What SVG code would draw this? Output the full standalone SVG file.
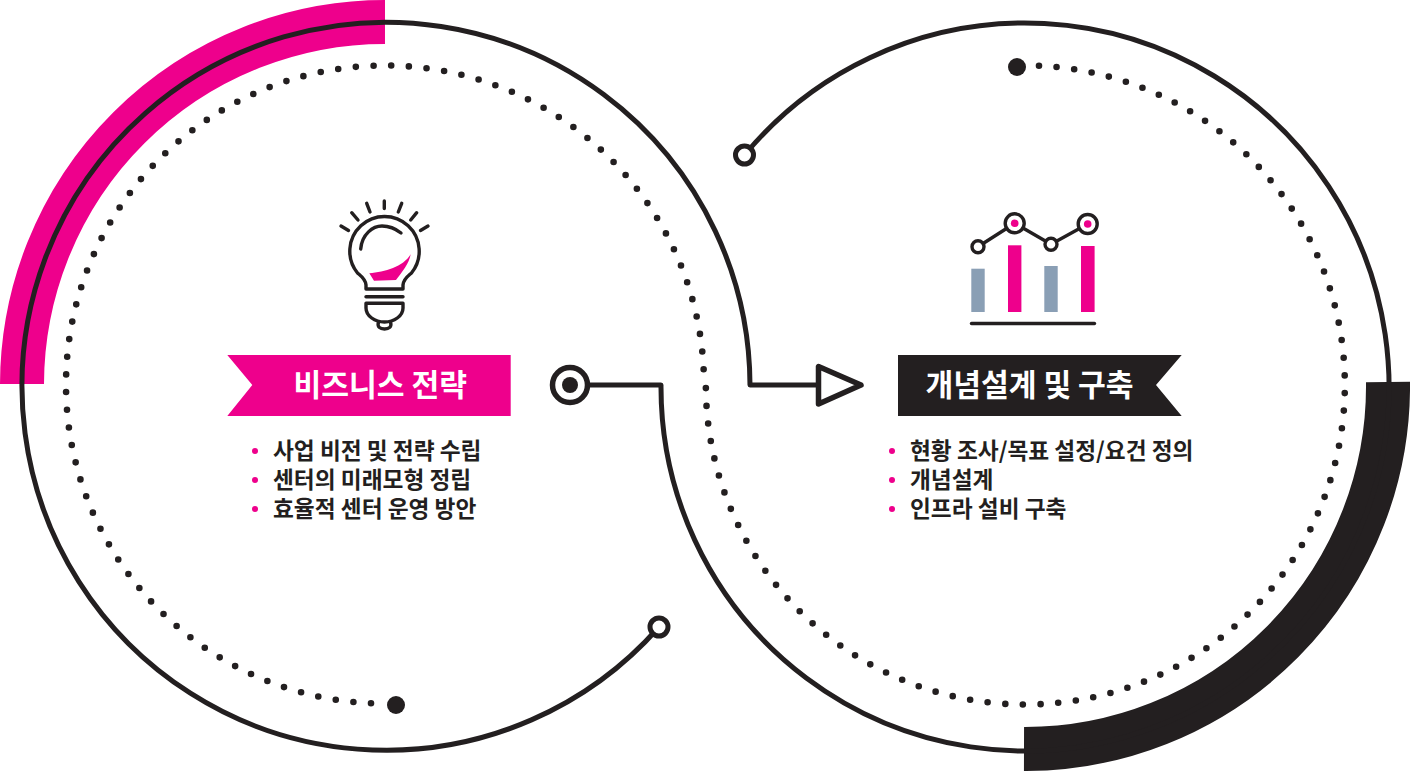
<svg xmlns="http://www.w3.org/2000/svg" width="1410" height="771" viewBox="0 0 1410 771">
<style>
.ln{fill:none;stroke:#231f20;stroke-width:5;stroke-linecap:round;stroke-linejoin:round}
.ic{fill:none;stroke:#231f20;stroke-width:3.4;stroke-linecap:round;stroke-linejoin:round}
.dots{fill:none;stroke:#231f20;stroke-width:6.6;stroke-linecap:round;stroke-dasharray:0 17.75}
.dots2{stroke-dasharray:0 17.716}
.pk{fill:#ee008c}.gr{fill:#8a9fb5}.bk{fill:#231f20}
text{font-family:"Noto Sans CJK KR","Noto Sans",sans-serif}
.h{font-size:30.2px;font-weight:700;fill:#fff}
.t{font-size:22.7px;font-weight:700;fill:#231f20}
</style>
<g id="rings">
<path d="M385,22 A363,363 0 0 0 22,384" fill="none" stroke="#ee008c" stroke-width="44"/>
<path d="M1388,382 A363,363 0 0 1 1024,749" fill="none" stroke="#231f20" stroke-width="44"/>
</g>
<g id="connectors">
<path class="ln" d="M659,627 A364,364 0 1 1 750,385 H818"/>
<path class="ln" d="M744.500,155 A364,364 0 1 1 661,385 H590"/>
<path class="dots" d="M371,703.200 A319,319 0 1 1 704,384.500"/>
<path class="dots dots2" d="M1039,65.800 A319.500,319.500 0 1 1 706,375"/>
<circle class="bk" cx="396" cy="705" r="9"/>
<circle class="bk" cx="1017" cy="67" r="9"/>
</g>
<g id="end-left"><circle cx="659" cy="627" r="9" fill="#fff" stroke="#231f20" stroke-width="5"/></g>
<g id="end-right"><circle cx="744.500" cy="155" r="9" fill="#fff" stroke="#231f20" stroke-width="5"/></g>
<g id="target"><circle cx="570" cy="385" r="17.500" fill="#fff" stroke="#231f20" stroke-width="5.500"/><circle class="bk" cx="570" cy="385" r="8"/></g>
<g id="arrow"><path d="M818.500,366.500 V404 L861,385 Z" fill="#fff" stroke="#231f20" stroke-width="5.500" stroke-linejoin="round"/></g>
<g id="bulb">
<path class="pk" d="M369.300,273.300 C385,272 403,267 410.700,254.300 C409,264 402,272 396,280 L374,280.700 Z"/>
<path class="ic" d="M366,289 V285 C365.500,279 361,276 357.500,273 A34.700,34.700 0 1 1 411.500,273 C408,276 403.500,279 403,285 V289 Z"/>
<path class="ic" d="M360.700,249 C362,234 373,226 382,226 C390,226 396,229 401,233"/>
<path class="ic" d="M366,296.700 H403"/>
<path class="ic" d="M366,303.300 H403 V308 C403,316 394,322 384.500,322 C375,322 366,316 366,308 Z"/>
<path class="ic" d="M378.500,322 C377,327 380,329 384.500,329 C389,329 392,327 390.500,322"/>
<path class="ic" d="M384.300,201 V208.500 M366.700,203.300 L370,212 M401.700,203.300 L398.300,212 M351.700,212.700 L358,220 M416.700,212.700 L410.700,220 M341,226 L348.500,230.500 M428,226 L420.500,230.500"/>
</g>
<g id="chart">
<rect class="gr" x="971.300" y="268.700" width="13.400" height="43.300"/>
<rect class="pk" x="1008" y="245.300" width="13.400" height="66.700"/>
<rect class="gr" x="1044.300" y="266" width="13.400" height="46"/>
<rect class="pk" x="1081" y="246" width="13.600" height="66"/>
<path class="ic" d="M971.500,323.500 H1094.500"/>
<path class="ic" d="M978,246.700 L1014.700,223.300 L1051,244.300 L1087.700,224"/>
<circle cx="978" cy="246.700" r="6" fill="#fff" stroke="#231f20" stroke-width="3.400"/>
<circle cx="1014.700" cy="223.300" r="9.500" fill="#fff" stroke="#231f20" stroke-width="3.400"/>
<circle class="pk" cx="1014.700" cy="223.300" r="3.800"/>
<circle cx="1051" cy="244.300" r="6" fill="#fff" stroke="#231f20" stroke-width="3.400"/>
<circle cx="1087.700" cy="224" r="9.500" fill="#fff" stroke="#231f20" stroke-width="3.400"/>
<circle class="pk" cx="1087.700" cy="224" r="3.800"/>
</g>
<g id="banner-left">
<path class="pk" d="M227.300,355 H510.700 V416 H227.300 L252.300,385 Z"/>
<text class="h" x="293.500" y="396">비즈니스 전략</text>
</g>
<g id="banner-right">
<path class="bk" d="M898,355 H1181.700 L1156,385 L1181.700,416 H898 Z"/>
<text class="h" x="925.500" y="396">개념설계 및 구축</text>
</g>
<g id="list-left">
<circle class="pk" cx="255" cy="451" r="3"/><circle class="pk" cx="255" cy="480" r="3"/><circle class="pk" cx="255" cy="509" r="3"/>
<text class="t" x="273" y="459">사업 비전 및 전략 수립</text>
<text class="t" x="273" y="488">센터의 미래모형 정립</text>
<text class="t" x="273" y="517">효율적 센터 운영 방안</text>
</g>
<g id="list-right">
<circle class="pk" cx="892" cy="451" r="3"/><circle class="pk" cx="892" cy="480" r="3"/><circle class="pk" cx="892" cy="509" r="3"/>
<text class="t" x="910" y="459">현황 조사/목표 설정/요건 정의</text>
<text class="t" x="910" y="488">개념설계</text>
<text class="t" x="910" y="517">인프라 설비 구축</text>
</g>
</svg>
